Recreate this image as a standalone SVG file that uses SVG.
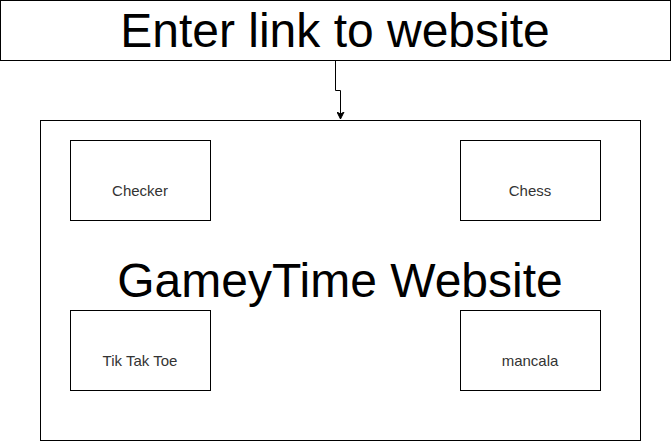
<svg xmlns="http://www.w3.org/2000/svg" width="671" height="441" viewBox="0 0 671 441">
<style>
.box{fill:#fff;stroke:#000;stroke-width:1}
.big{font-family:"Liberation Sans",Arial,sans-serif;font-size:48px;fill:#000;text-anchor:middle}
.small{font-family:"Liberation Sans",Arial,sans-serif;font-size:15px;fill:#333;text-anchor:middle}
.edge{fill:none;stroke:#000;stroke-width:1}
</style>
<defs>
<marker id="arrow" markerWidth="8" markerHeight="8" refX="7" refY="4" orient="auto" markerUnits="userSpaceOnUse">
<path d="M0,0.5 L7,4 L0,7.5 L2,4 Z" fill="#000" stroke="#000"/>
</marker>
</defs>
<rect width="671" height="441" fill="#fff"/>
<g id="main">
<rect class="box" x="40.5" y="120.5" width="600" height="320"/>
<text class="big" x="340" y="297">GameyTime Website</text>
</g>
<g id="top">
<rect class="box" x="0.5" y="0.5" width="670" height="60"/>
<text class="big" x="335" y="47">Enter link to website</text>
</g>
<g id="checker">
<rect class="box" x="70.5" y="140.5" width="140" height="80"/>
<text class="small" x="140" y="196">Checker</text>
</g>
<g id="chess">
<rect class="box" x="460.5" y="140.5" width="140" height="80"/>
<text class="small" x="530" y="196">Chess</text>
</g>
<g id="tiktaktoe">
<rect class="box" x="70.5" y="310.5" width="140" height="80"/>
<text class="small" x="140" y="366">Tik Tak Toe</text>
</g>
<g id="mancala">
<rect class="box" x="460.5" y="310.5" width="140" height="80"/>
<text class="small" x="530" y="366">mancala</text>
</g>
<g id="connectors">
<path class="edge" d="M335.5,61 L335.5,90.5 L340.5,90.5 L340.5,119" marker-end="url(#arrow)"/>
</g>
</svg>
